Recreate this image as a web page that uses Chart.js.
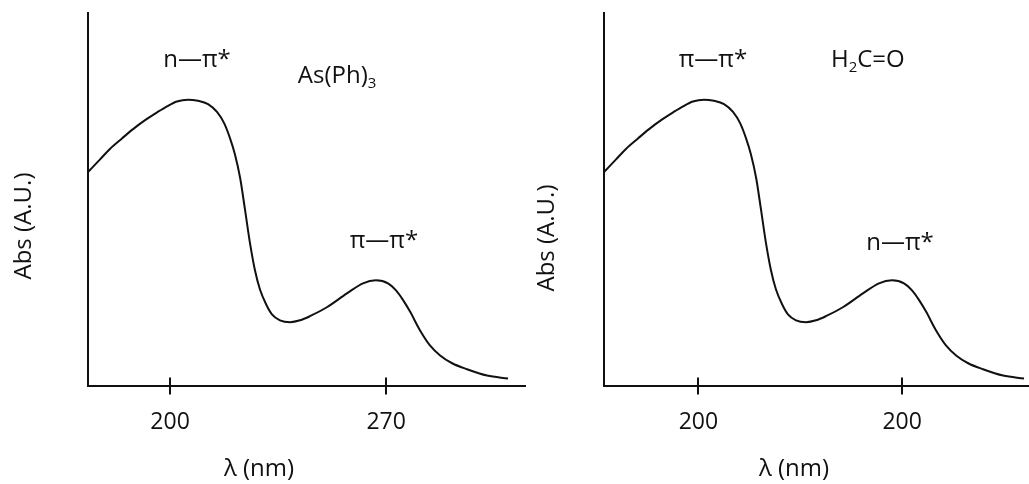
<!DOCTYPE html>
<html>
<head>
<meta charset="utf-8">
<script src="https://cdn.jsdelivr.net/npm/chart.js@4.4.0/dist/chart.umd.min.js"></script>
<style>
  html, body { margin: 0; padding: 0; background: #fff; overflow: hidden; }
  body { width: 1029px; height: 484px; position: relative; }
  .panel { position: absolute; top: 0; width: 530px; height: 484px; }
  #leftPanel { left: 0; }
  #rightPanel { left: 530px; }
</style>
</head>
<body>
<div class="panel" id="leftPanel"><canvas id="chartAs"></canvas></div>
<div class="panel" id="rightPanel"><canvas id="chartH2CO"></canvas></div>
<script>
// curve samples (x in nm, y in arbitrary units 0-100)
const wavelength = [173.4, 177.3, 180.5, 184.4, 188.0, 191.9, 195.8, 199.0, 202.2, 205.8,
                    209.0, 212.3, 215.2, 217.5, 219.4, 221.0, 222.7, 224.3, 225.9, 227.5,
                    229.1, 231.1, 233.0, 235.6, 238.9, 242.1, 245.3, 250.8, 257.3, 262.5,
                    266.7, 270.6, 273.2, 275.5, 277.7, 281.0, 284.2, 287.5, 291.4, 296.2,
                    302.7, 309.5];
const absAsPh3 = [57.4, 60.8, 63.6, 66.4, 68.9, 71.3, 73.4, 75.0, 76.3, 76.8,
                  76.5, 75.6, 73.5, 70.5, 66.5, 62.2, 55.8, 47.2, 38.3, 31.1,
                  26.0, 22.0, 19.3, 17.7, 17.2, 17.7, 18.8, 21.2, 24.9, 27.6,
                  28.4, 27.6, 25.7, 23.1, 20.1, 15.0, 11.0, 8.3, 6.2, 4.6,
                  2.9, 2.1];
const absH2CO = [57.4, 60.8, 63.6, 66.4, 68.9, 71.3, 73.4, 75.0, 76.3, 76.8,
                 76.5, 75.6, 73.5, 70.5, 66.5, 62.2, 55.8, 47.2, 38.3, 31.1,
                 26.0, 22.0, 19.3, 17.7, 17.2, 17.7, 18.8, 21.2, 24.9, 27.6,
                 28.4, 27.6, 25.7, 23.1, 20.1, 15.0, 11.0, 8.3, 6.2, 4.6,
                 2.9, 2.1];

// x axis ticks
const tickValuesAs = [200, 270];
const tickLabelsAs = ['200', '270'];
const tickValuesH2CO = [204, 270];
const tickLabelsH2CO = ['200', '200'];

const FONT = '"Open Sans", "Noto Sans", sans-serif';
const INK = '#111';

// text drawn on top of each panel (band labels placed in data coords)
const notesAs = [
  { x: 208.7, y: 85.5, parts: [['n—π*']] },
  { x: 254.1, y: 81.2, parts: [['As(Ph)'], ['3', 'sub']] },
  { x: 269.3, y: 37.0, parts: [['π—π*']] }
];
const notesH2CO = [
  { x: 208.7, y: 85.5, parts: [['π—π*']] },
  { x: 258.9, y: 85.5, parts: [['H'], ['2', 'sub'], ['C=O']] },
  { x: 269.3, y: 36.5, parts: [['n—π*']] }
];

// draws crossing tick marks, band labels and axis titles
const decorPlugin = {
  id: 'decor',
  afterDraw(chart, args, opts) {
    const ctx = chart.ctx;
    const xs = chart.scales.x;
    const ys = chart.scales.y;
    const bottom = chart.chartArea.bottom;
    ctx.save();
    ctx.strokeStyle = INK;
    ctx.lineWidth = 2;
    xs.ticks.forEach(t => {
      const px = Math.round(xs.getPixelForValue(t.value));
      ctx.beginPath();
      ctx.moveTo(px, bottom - 9);
      ctx.lineTo(px, bottom + 8);
      ctx.stroke();
    });

    ctx.fillStyle = INK;
    ctx.textBaseline = 'alphabetic';
    ctx.textAlign = 'left';
    opts.notes.forEach(n => {
      let w = 0;
      n.parts.forEach(p => {
        ctx.font = (p[1] === 'sub' ? '15px ' : '24px ') + FONT;
        w += ctx.measureText(p[0]).width;
      });
      let cx = xs.getPixelForValue(n.x) - w / 2;
      const by = ys.getPixelForValue(n.y);
      n.parts.forEach(p => {
        const sub = p[1] === 'sub';
        ctx.font = (sub ? '15px ' : '24px ') + FONT;
        ctx.fillText(p[0], cx, sub ? by + 5 : by);
        cx += ctx.measureText(p[0]).width;
      });
    });

    ctx.font = '24px ' + FONT;
    ctx.textAlign = 'center';
    ctx.fillText('λ (nm)', opts.xTitle[0], opts.xTitle[1]);
    ctx.translate(opts.yTitle[0], opts.yTitle[1]);
    ctx.rotate(-Math.PI / 2);
    ctx.textBaseline = 'middle';
    ctx.fillText('Abs (A.U.)', 0, 0);
    ctx.restore();
  }
};

function makeChart(id, values, tickValues, tickLabels, notes, pad, xTitle, yTitle) {
  return new Chart(document.getElementById(id), {
    type: 'line',
    data: {
      datasets: [{
        data: wavelength.map((w, i) => ({ x: w, y: values[i] })),
        borderColor: INK,
        borderWidth: 2,
        pointRadius: 0,
        fill: false,
        cubicInterpolationMode: 'monotone'
      }]
    },
    options: {
      responsive: true,
      maintainAspectRatio: false,
      animation: false,
      layout: { padding: pad },
      plugins: {
        legend: { display: false },
        tooltip: { enabled: false },
        decor: { notes: notes, xTitle: xTitle, yTitle: yTitle }
      },
      scales: {
        x: {
          type: 'linear',
          min: 173.4,
          max: 315,
          afterBuildTicks: scale => { scale.ticks = tickValues.map(v => ({ value: v })); },
          grid: { display: false, drawTicks: false },
          border: { display: true, color: INK, width: 2 },
          ticks: {
            color: INK,
            padding: 22,
            maxRotation: 0,
            autoSkip: false,
            font: { family: FONT, size: 23 },
            callback: (value, index) => tickLabels[index]
          }
        },
        y: {
          min: 0,
          max: 100,
          grid: { display: false, drawTicks: false },
          border: { display: true, color: INK, width: 2 },
          ticks: { display: false }
        }
      }
    },
    plugins: [decorPlugin]
  });
}

makeChart('chartAs', absAsPh3, tickValuesAs, tickLabelsAs, notesAs,
  { left: 88, top: 13, right: 5, bottom: 26 }, [259, 476], [24, 226]);
makeChart('chartH2CO', absH2CO, tickValuesH2CO, tickLabelsH2CO, notesH2CO,
  { left: 74, top: 13, right: 19, bottom: 26 }, [264, 476], [17, 238]);
</script>
</body>
</html>
